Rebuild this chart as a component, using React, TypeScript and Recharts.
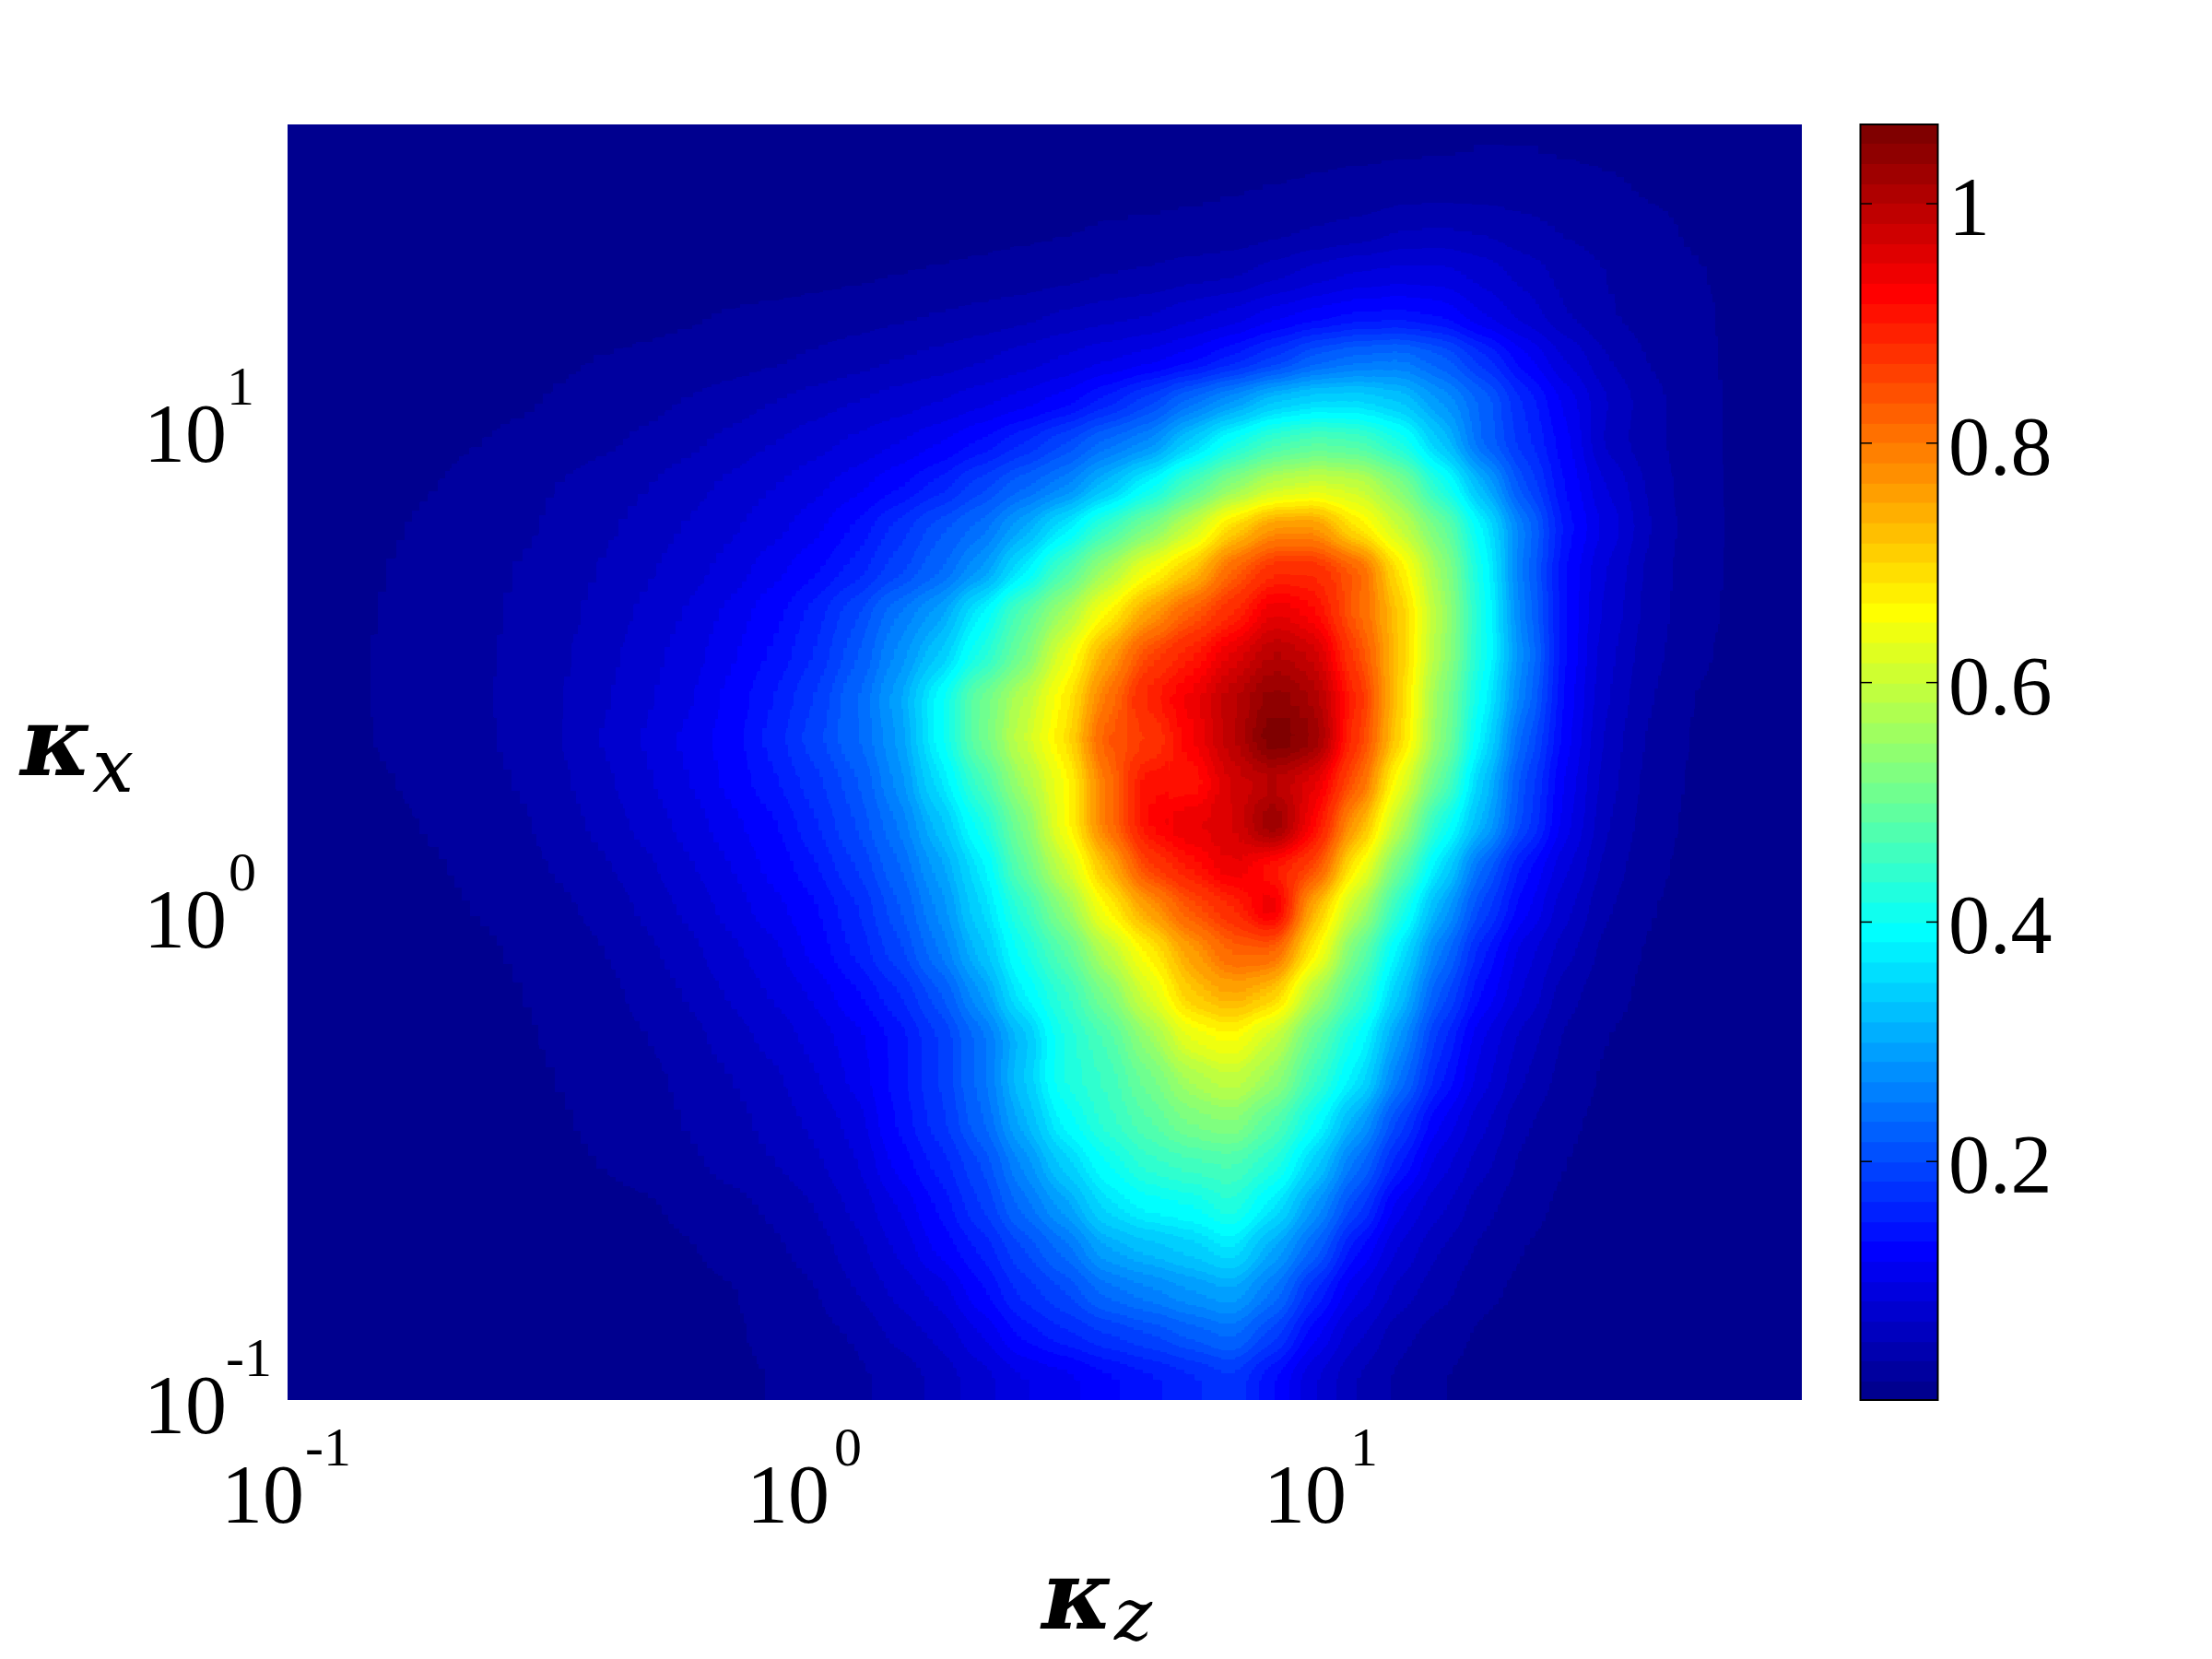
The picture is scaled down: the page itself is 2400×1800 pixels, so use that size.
import React from "react";
import { ScatterChart, Scatter, XAxis, YAxis } from "recharts";

// spanwise wavenumber at each column centre
const kzValues = [
  0.11, 0.132, 0.159, 0.191, 0.23, 0.277, 0.334, 0.402, 0.484, 0.583, 0.702, 0.845,
  1.02, 1.22, 1.47, 1.77, 2.13, 2.57, 3.09, 3.72, 4.48, 5.4, 6.5, 7.82,
  9.42, 11.3, 13.7, 16.4, 19.8, 23.8, 28.7, 34.5, 41.6, 50.1, 60.3, 72.6,
];

// streamwise wavenumber at each row centre, top row first
const kxValues = [
  38.3, 31.3, 25.6, 20.9, 17.1, 14.0, 11.4, 9.34, 7.64, 6.24, 5.1, 4.17, 3.41, 2.79, 2.28,
  1.86, 1.52, 1.24, 1.02, 0.831, 0.679, 0.555, 0.454, 0.371, 0.303, 0.248, 0.203, 0.166, 0.135, 0.111,
];

// field values x100, top row first
const heatRows = [
  [.5,.5,.5,.5,.5,.5,.5,.5,.5,.5,.5,.5,.5,.5,.5,.5,.5,.5,.5,.8,.8,.8,.8,.8,1.1,1.2,1.3,1.4,1.6,1.6,1.4,1.2,.9,.6,.5,.4],
  [.6,.6,.6,.6,.6,.6,.6,.6,.6,.6,.6,.6,.6,.6,.6,.6,.6,.6,.6,1,1.1,1.3,1.5,1.7,1.9,2.1,2.5,2.6,2.6,2.5,2.2,1.9,1.4,1,.8,.5],
  [.6,.6,.6,.6,.6,.6,.6,.6,.6,.6,.6,.6,.6,.6,.6,.9,1.1,1.3,1.5,1.75,1.9,2.1,2.4,2.9,3.5,4,5,5.2,4.8,4,3.2,2.6,2.1,1.4,1,.6],
  [.5,.5,.5,.5,.5,.5,.5,.5,.5,.5,.7,.9,1.1,1.3,1.6,1.8,2,2.4,2.8,3.3,3.7,4.2,4.6,6,7.3,8.6,9,9,7.5,6,4.5,3.3,2.5,1.8,1.2,.8],
  [.5,.5,.5,.5,.5,.5,.7,.9,1.1,1.4,1.8,2,2.3,2.6,3.1,3.5,3.9,4.5,5.3,5.9,6.5,7.8,9,11,12.5,13.5,14,13,10,7.5,5,3.5,2.6,2,1.3,.9],
  [.4,.4,.4,.6,.9,1.1,1.4,1.7,1.9,2.2,2.6,3.1,3.6,4.3,4.9,5.5,6.4,7.4,8.4,9.7,10.8,12.5,15,18,22,24,25,22,17,12,8,5,3.2,2.1,1.3,.9],
  [.3,.4,.6,.8,1.1,1.4,1.8,2.3,2.8,3.4,4.1,4.9,5.7,6.5,7.4,8.3,9.4,10.8,12.5,15.5,19,24,28,33,35,35,33,28,23,16,11,6.5,4,2.3,1.4,1],
  [.4,.6,.8,1.2,1.6,2,2.5,3.1,3.8,4.6,5.5,6.5,7.6,8.7,10,11.5,13.5,16.5,20,24,27,34,41,46,48,47,42,33,23,17,12,6,4,2.2,1.4,1],
  [.5,.8,1.1,1.6,2.2,2.8,3.4,4.2,5,5.9,7,8.2,9.6,11,13,15.5,19,23,26,32,39,47,54,59,61,60,53,42,31,20,13,8,4.6,2.4,1.4,1],
  [.7,1,1.5,2,2.5,3.1,3.8,4.7,5.6,6.7,8,9.5,11,13.5,17,21,24,30,37,45,52,60,70,77,77,68,60,51,38,25,14,9.5,5,2.5,1.4,1],
  [.8,1.2,1.7,2.2,2.8,3.5,4.3,5.2,6.3,7.6,9.1,11,13,15.5,19,23,28,37,47,56,65,72,82,88,88,83,68,55,40,24,13,8,4.5,2.4,1.4,1],
  [.9,1.3,1.8,2.3,2.9,3.7,4.6,5.6,6.9,8.5,10.5,12.8,15.5,19.5,25,29,38,48,56,66,76,83,88,95,92,82,72,57,41,25,13,7.5,4.2,2.2,1.3,.9],
  [1,1.4,1.9,2.4,3,3.8,4.8,6,7.5,9.2,11.2,13.5,16.5,21,27,33,42,51,63,75,85,90,95,100,98,85,72,56,41,26,13,7,4,2,1.2,.8],
  [1,1.4,1.9,2.4,3,3.9,5,6.3,8,9.8,12,14.8,18,23,29,39,50,58,67,80,90,94,99,104,101,88,71,54,39,25,12.5,6.5,3.5,1.6,1,.7],
  [.9,1.3,1.9,2.4,3,3.8,5,6.7,8.5,10.5,12.5,15.5,19,23,28,39,50,60,68,84,86,93,99,107,103,87,70,53,37,22,12,6,3,1.5,1,.7],
  [.7,1.1,1.6,2.2,2.8,3.5,4.7,6.2,8,10,12,14.5,17.5,21,27,36,46,56,65,80,92,90,97,99,95,83,64,49,33,20,11,5.5,2.8,1.4,.9,.6],
  [.6,.9,1.3,1.8,2.4,3.1,4.2,5.5,7.2,9,11,13,16,20,25,32,41,52,65,80,92,95,96,104,92,75,58,42,31,19,10.5,5,2.5,1.2,.8,.5],
  [.5,.7,1,1.5,2,2.7,3.6,4.8,6.2,8,10,12,14.5,18,23,29,37,49,60,73,86,91,95,90,85,66,50,36,23,14,8.5,4.2,2,1.1,.7,.5],
  [.4,.6,.8,1.2,1.7,2.2,3,4,5.3,7,9,11,13,16,21,27,35,44,54,66,76,84,88,96,73,58,43,30,19,12,7,3.5,1.7,1,.6,.4],
  [.4,.5,.7,1,1.3,1.8,2.4,3.3,4.6,6,7.8,9.5,12,15,19,25,32,41,48,58,67,76,82,82,67,50,37,25,15,9,5.5,2.6,1.4,.9,.6,.4],
  [.3,.4,.6,.8,1.1,1.6,2.1,2.8,3.9,5.2,6.8,8.4,10.3,13,16,21,28,38,44,52,62,72,75,72,57,46,33,21,13,8,4,2.1,1.2,.8,.5,.4],
  [.3,.4,.5,.7,1,1.4,1.9,2.5,3.3,4.4,5.8,7.2,9,11,14,18,24,32,42,47,55,64,66,60,49,40,28,17,10,6,3,1.6,1,.7,.5,.3],
  [.3,.4,.5,.6,.9,1.2,1.7,2.2,2.9,3.8,5,6.2,8,10.5,14,18,24,33,42,45,51,57,60,55,45,37,25,15,9,5,2.6,1.3,.9,.6,.4,.3],
  [.3,.3,.4,.6,.8,1.1,1.5,2,2.6,3.4,4.4,5.5,7,9,13.5,17.5,23,31,39,44,48,52,54,48,40,30,19,11.5,7,3.6,1.9,1.1,.8,.5,.4,.3],
  [.2,.3,.4,.5,.6,.9,1.2,1.7,2.2,3,3.9,4.9,6.2,8,12,15.5,20,27,34,40,44,46,47,43,34,24,15,9,5.5,2.9,1.6,1,.7,.5,.4,.3],
  [.2,.3,.3,.4,.5,.6,.8,1.1,1.4,2,2.8,3.7,5,7,10,13.5,18,24,29,36,39,40,43,37,28,19,10.5,7,4,2.2,1.2,.8,.6,.4,.3,.2],
  [.2,.2,.3,.3,.4,.5,.6,.8,1.1,1.5,2.2,3,4.1,6,8.5,12,15,20,24,30,32,34,37,30,23,13.5,8,5,3,1.6,.9,.6,.4,.3,.3,.2],
  [.2,.2,.2,.3,.3,.4,.5,.6,.7,1,1.5,2.2,3.2,5,7,9,13,17,20,24,26,28,30,25,16.5,10,6,4,2,1.2,.7,.5,.4,.3,.2,.2],
  [.2,.2,.2,.2,.3,.3,.4,.5,.7,1,1.35,2,2.7,3.5,5.5,7,10,14,16,18,20,22,24,19,12,7,4,2.5,1.3,.8,.5,.4,.3,.2,.2,.2],
  [.2,.2,.2,.2,.2,.3,.4,.5,.6,.8,1.2,1.7,2.4,3,4,5.5,7.5,10,11,13,14.5,16,18,13.5,8.5,5,3,1.7,1,.6,.4,.3,.2,.2,.2,.2],
];

const colorbarLevels = [
  0.008, 0.025, 0.042, 0.058, 0.075, 0.092, 0.108, 0.125, 0.142, 0.158, 0.175, 0.192, 0.208, 0.225, 0.242, 0.258,
  0.275, 0.292, 0.308, 0.325, 0.342, 0.358, 0.375, 0.392, 0.408, 0.425, 0.442, 0.458, 0.475, 0.492, 0.508, 0.525,
  0.542, 0.558, 0.575, 0.592, 0.608, 0.625, 0.642, 0.659, 0.675, 0.692, 0.709, 0.725, 0.742, 0.759, 0.775, 0.792,
  0.809, 0.825, 0.842, 0.859, 0.875, 0.892, 0.909, 0.925, 0.942, 0.959, 0.975, 0.992, 1.009, 1.025, 1.042, 1.059,
];

const xTicks = [0.1, 1, 10];
const yTicks = [0.1, 1, 10];
const colorbarTicks = [0.2, 0.4, 0.6, 0.8, 1];
const MAX_VALUE = 1.067;
const FONT = "'Liberation Serif', serif";
const SYMBOL_FONT = "'DejaVu Serif', serif";

const heatData = heatRows.flatMap((row, r) =>
  row.map((v, c) => ({ kz: kzValues[c], kx: kxValues[r], value: v / 100, r, c }))
);
const colorbarData = colorbarLevels.map((level) => ({ x: 0.5, level }));
const frameData = [{ x: 0.5, level: MAX_VALUE / 2 }];

// MATLAB jet, 64 levels
const jetChannel = (k: number, centre: number) => {
  const t = (k + 1) / 64;
  return Math.max(0, Math.min(1, 1.5 - Math.abs(4 * t - centre)));
};
const jetColor = (k: number) =>
  `rgb(${Math.round(jetChannel(k, 3) * 255)},${Math.round(jetChannel(k, 2) * 255)},${Math.round(jetChannel(k, 1) * 255)})`;

// grey holds sqrt(value) so the faint outer contours keep enough 8-bit steps
const greyLevels = Array.from({ length: 256 }, (_, g) => g);
const jetTable = (centre: number) =>
  greyLevels
    .map((g) => jetChannel(Math.min(63, Math.floor(((g / 255) * (g / 255)) * 64)), centre).toFixed(4))
    .join(" ");

const HeatCell = (props: any) => {
  const { cx, cy, payload } = props;
  const half = 24;
  const grey = Math.round(Math.sqrt(Math.min(1, payload.value / MAX_VALUE)) * 255);
  const left = cx - half - (payload.c === 0 ? 90 : 0);
  const right = cx + half + (payload.c === kzValues.length - 1 ? 90 : 0);
  const top = cy - half - (payload.r === 0 ? 90 : 0);
  const bottom = cy + half + (payload.r === kxValues.length - 1 ? 90 : 0);
  return <rect x={left} y={top} width={right - left} height={bottom - top} fill={`rgb(${grey},${grey},${grey})`} />;
};

const BandCell = (props: any) => {
  const { cx, cy, index } = props;
  return <rect x={cx - 42} y={cy - 11.5} width={84} height={23} fill={jetColor(index)} />;
};

const FrameCell = (props: any) => {
  const { cx, cy } = props;
  return <rect x={cx - 42} y={cy - 692} width={84} height={1384} fill="none" stroke="#000" strokeWidth={2} />;
};

const exponent = (v: number) => String(Math.round(Math.log10(v)));
const xBaseOffset: Record<string, number> = { "-1": -72, "0": -68, "1": -73 };
const xExpOffset: Record<string, number> = { "-1": 19, "0": 27, "1": 21 };
const yExpX: Record<string, number> = { "-1": 245, "0": 248, "1": 246 };

const XTick = (props: any) => {
  const { x, payload } = props;
  const exp = exponent(payload.value);
  return (
    <text fontFamily={FONT} fill="#000">
      <tspan x={x + xBaseOffset[exp]} y={1652} fontSize={90}>10</tspan>
      <tspan x={x + xExpOffset[exp]} y={1590} fontSize={60}>{exp}</tspan>
    </text>
  );
};

const YTick = (props: any) => {
  const { y, payload } = props;
  const exp = exponent(payload.value);
  return (
    <text fontFamily={FONT} fill="#000">
      <tspan x={156} y={y + 36} fontSize={90}>10</tspan>
      <tspan x={yExpX[exp]} y={y - 26} fontSize={60}>{exp}</tspan>
    </text>
  );
};

const ColorbarTick = (props: any) => {
  const { x, y, payload } = props;
  return (
    <g>
      <line x1={x - 85} x2={x - 72} y1={y} y2={y} stroke="#000" strokeWidth={1.5} />
      <line x1={x - 13} x2={x} y1={y} y2={y} stroke="#000" strokeWidth={1.5} />
      <text x={x + 11} y={y + 34} fontFamily={FONT} fontSize={90} fill="#000">{payload.value}</text>
    </g>
  );
};

const KzLabel = () => (
  <text fill="#000" fontFamily={SYMBOL_FONT} fontStyle="italic">
    <tspan x={1130} y={1767} fontSize={104} fontWeight="bold">κ</tspan>
    <tspan x={1209} y={1779} fontSize={78}>z</tspan>
  </text>
);

const KxLabel = () => (
  <text fill="#000" fontFamily={SYMBOL_FONT} fontStyle="italic">
    <tspan x={22} y={841} fontSize={104} fontWeight="bold">κ</tspan>
    <tspan x={100} y={859} fontSize={80}>x</tspan>
  </text>
);

export default function App() {
  return (
    <div style={{ position: "absolute", left: 0, top: 0, width: 2400, height: 1800, background: "#fff" }}>
      <style>{`.heat .recharts-scatter{filter:url(#jetBlur);clip-path:url(#plotClip)}`}</style>
      <svg width={0} height={0} style={{ position: "absolute" }}>
        <defs>
          <filter id="jetBlur" filterUnits="userSpaceOnUse" x={0} y={0} width={2400} height={1800} colorInterpolationFilters="sRGB">
            <feGaussianBlur stdDeviation={15} />
            <feComponentTransfer>
              <feFuncR type="discrete" tableValues={jetTable(3)} />
              <feFuncG type="discrete" tableValues={jetTable(2)} />
              <feFuncB type="discrete" tableValues={jetTable(1)} />
            </feComponentTransfer>
          </filter>
          <clipPath id="plotClip" clipPathUnits="userSpaceOnUse">
            <rect x={312} y={135} width={1643} height={1384} />
          </clipPath>
        </defs>
      </svg>

      <div className="heat" style={{ position: "absolute", left: 0, top: 0 }}>
        <ScatterChart width={2400} height={1800} margin={{ top: 135, right: 445, bottom: 0, left: 0 }}>
          <XAxis
            type="number"
            dataKey="kz"
            scale="log"
            domain={[0.1, 80]}
            ticks={xTicks}
            allowDataOverflow
            height={281}
            axisLine={false}
            tickLine={false}
            tick={<XTick />}
            interval={0}
            label={<KzLabel />}
          />
          <YAxis
            type="number"
            dataKey="kx"
            scale="log"
            domain={[0.1, 42.3]}
            ticks={yTicks}
            allowDataOverflow
            width={312}
            axisLine={false}
            tickLine={false}
            tick={<YTick />}
            interval={0}
            label={<KxLabel />}
          />
          <Scatter data={heatData} shape={<HeatCell />} isAnimationActive={false} />
        </ScatterChart>
      </div>

      <div style={{ position: "absolute", left: 1990, top: 0 }}>
        <ScatterChart width={410} height={1800} margin={{ top: 134, right: 0, bottom: 280, left: 28 }}>
          <XAxis type="number" dataKey="x" domain={[0, 1]} hide />
          <YAxis
            type="number"
            dataKey="level"
            orientation="right"
            domain={[0, MAX_VALUE]}
            ticks={colorbarTicks}
            allowDataOverflow
            width={297}
            axisLine={false}
            tickLine={false}
            tickSize={0}
            tickMargin={0}
            tick={<ColorbarTick />}
            interval={0}
          />
          <Scatter data={colorbarData} shape={<BandCell />} isAnimationActive={false} />
          <Scatter data={frameData} shape={<FrameCell />} isAnimationActive={false} />
        </ScatterChart>
      </div>
    </div>
  );
}
